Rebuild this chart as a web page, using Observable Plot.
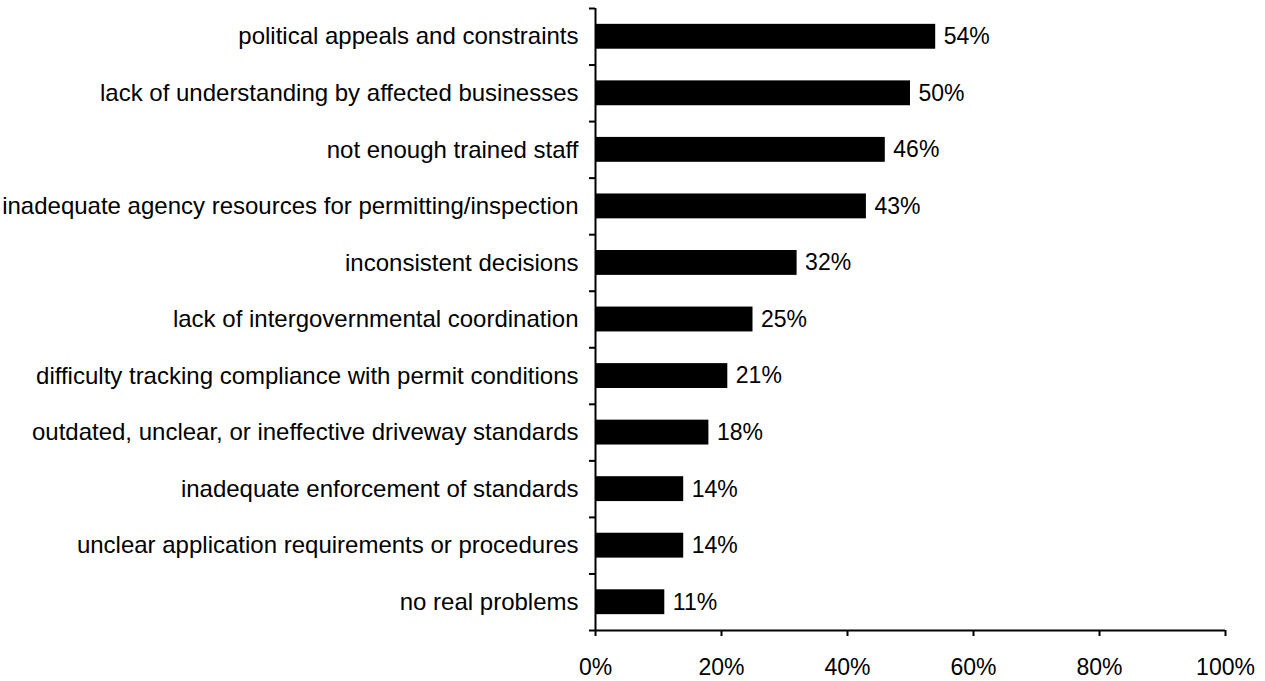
<!DOCTYPE html>
<html><head><meta charset="utf-8">
<script src="https://cdn.jsdelivr.net/npm/d3@7"></script>
<script src="https://cdn.jsdelivr.net/npm/@observablehq/plot@0.6"></script>
<style>body{margin:0;background:#fff}</style>
</head><body><div id="chart"></div>
<script>
const categories = [
  "political appeals and constraints",
  "lack of understanding by affected businesses",
  "not enough trained staff",
  "inadequate agency resources for permitting/inspection",
  "inconsistent decisions",
  "lack of intergovernmental coordination",
  "difficulty tracking compliance with permit conditions",
  "outdated, unclear, or ineffective driveway standards",
  "inadequate enforcement of standards",
  "unclear application requirements or procedures",
  "no real problems"
];
const values = [0.54, 0.50, 0.46, 0.43, 0.32, 0.25, 0.21, 0.18, 0.14, 0.14, 0.11];
const xTicks = [0, 0.2, 0.4, 0.6, 0.8, 1.0];

const data = categories.map((c, i) => ({cat: c, value: values[i], i}));
const half = 0.22;
const font = "Liberation Sans, Arial, sans-serif";

const chart = Plot.plot({
  width: 1265,
  height: 681,
  marginLeft: 595,
  marginRight: 40,
  marginTop: 8,
  marginBottom: 51,
  style: {fontFamily: font, fontSize: "24px", color: "#000", background: "#fff"},
  x: {domain: [0, 1], axis: null},
  y: {domain: [0, categories.length], reverse: true, axis: null},
  marks: [
    Plot.rectX(data, {x1: 0, x2: "value", y1: d => d.i + 0.5 - half, y2: d => d.i + 0.5 + half, fill: "#000"}),
    Plot.text(data, {x: "value", y: d => d.i + 0.5, text: d => Math.round(d.value * 100) + "%", textAnchor: "start", dx: 8, fontSize: 23, fill: "#000"}),
    Plot.axisY(d3.range(0, categories.length + 1), {tickSize: 6, tickFormat: () => "", stroke: "#000", strokeWidth: 2, label: null}),
    Plot.axisY(data.map(d => d.i + 0.5), {tickSize: 0, tickPadding: 17, tickFormat: v => categories[Math.floor(v)], fontSize: 24, fill: "#000", label: null}),
    Plot.axisX(xTicks, {tickSize: 6, tickPadding: 22, tickFormat: d => Math.round(d * 100) + "%", fontSize: 23, stroke: "#000", strokeWidth: 2, fill: "#000", label: null}),
    Plot.ruleX([0], {stroke: "#000", strokeWidth: 2}),
    Plot.ruleY([0], {y: () => categories.length, stroke: "#000", strokeWidth: 2})
  ]
});
document.getElementById("chart").append(chart);
</script></body></html>
